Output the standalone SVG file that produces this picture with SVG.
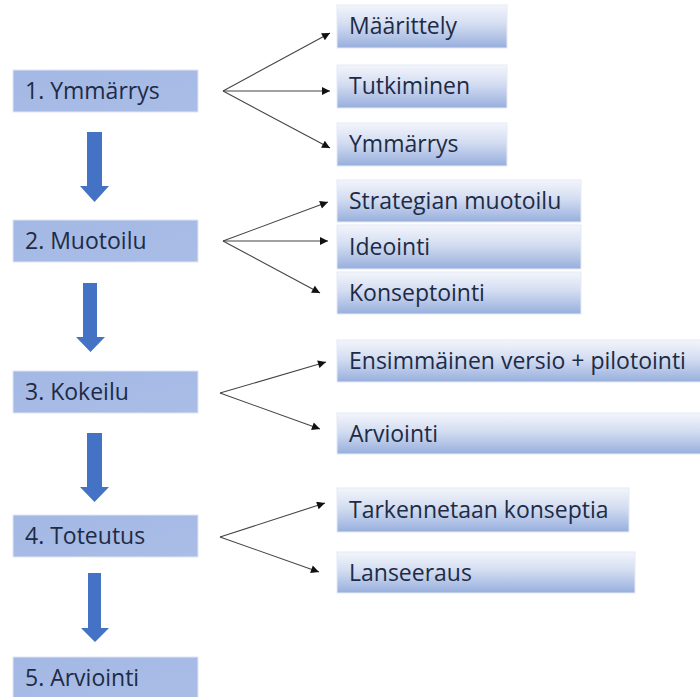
<svg xmlns="http://www.w3.org/2000/svg" width="700" height="697" viewBox="0 0 700 697">
<defs>
<linearGradient id="gR" x1="0" y1="0" x2="0" y2="1">
<stop offset="0" stop-color="#f3f5fb"/>
<stop offset="0.45" stop-color="#d3ddf1"/>
<stop offset="1" stop-color="#97aedd"/>
</linearGradient>
<linearGradient id="gL" x1="0" y1="0" x2="1" y2="1">
<stop offset="0" stop-color="#a3b8e4"/>
<stop offset="1" stop-color="#a9bde6"/>
</linearGradient>
<marker id="ah" viewBox="0 0 10 10" refX="10" refY="5" markerWidth="9" markerHeight="8" markerUnits="userSpaceOnUse" orient="auto">
<path d="M0,0 L10,5 L0,10 Z" fill="#111"/>
</marker>
</defs>
<style>
.lb{fill:url(#gL);stroke:#dfe6f4;stroke-width:1}
.rb{fill:url(#gR);stroke:#e4eaf6;stroke-width:1}
.t{font-family:"Open Sans","Noto Sans",sans-serif;font-size:23px;fill:#1e2b45}
.c{fill:none;stroke:#444;stroke-width:1.1;marker-end:url(#ah)}
.ba{fill:#4472c4}
</style>
<rect width="700" height="697" fill="#ffffff"/>

<g id="step1"><rect class="lb" x="13" y="70" width="185" height="42"/><text class="t" x="25" y="99">1. Ymmärrys</text></g>
<g id="step2"><rect class="lb" x="13" y="220" width="185" height="42"/><text class="t" x="25" y="249">2. Muotoilu</text></g>
<g id="step3"><rect class="lb" x="13" y="371" width="185" height="42"/><text class="t" x="25" y="400">3. Kokeilu</text></g>
<g id="step4"><rect class="lb" x="13" y="515" width="185" height="42"/><text class="t" x="25" y="544">4. Toteutus</text></g>
<g id="step5"><rect class="lb" x="13" y="657" width="185" height="42"/><text class="t" x="25" y="686">5. Arviointi</text></g>

<g id="s1a"><rect class="rb" x="337" y="5" width="170" height="43"/><text class="t" x="349" y="34">Määrittely</text></g>
<g id="s1b"><rect class="rb" x="337" y="65" width="170" height="43"/><text class="t" x="349" y="94">Tutkiminen</text></g>
<g id="s1c"><rect class="rb" x="337" y="123" width="170" height="43"/><text class="t" x="349" y="152">Ymmärrys</text></g>
<g id="s2a"><rect class="rb" x="337" y="180" width="244" height="42"/><text class="t" x="349" y="209">Strategian muotoilu</text></g>
<g id="s2b"><rect class="rb" x="337" y="225" width="244" height="44"/><text class="t" x="349" y="255">Ideointi</text></g>
<g id="s2c"><rect class="rb" x="337" y="272" width="244" height="42"/><text class="t" x="349" y="301">Konseptointi</text></g>
<g id="s3a"><rect class="rb" x="337" y="340" width="364" height="42"/><text class="t" x="349" y="369">Ensimmäinen versio + pilotointi</text></g>
<g id="s3b"><rect class="rb" x="337" y="413" width="364" height="41"/><text class="t" x="349" y="442">Arviointi</text></g>
<g id="s4a"><rect class="rb" x="337" y="488" width="292" height="44"/><text class="t" x="349" y="518">Tarkennetaan konseptia</text></g>
<g id="s4b"><rect class="rb" x="337" y="552" width="298" height="41"/><text class="t" x="349" y="581">Lanseeraus</text></g>

<g id="connectors">
<polygon class="ba" points="87,132 102,132 102,186 109,186 94.5,202 80,186 87,186"/>
<polygon class="ba" points="83,283 97,283 97,337 105,337 90.5,352 76,337 83,337"/>
<polygon class="ba" points="87,433 102,433 102,487 109,487 94.5,502 80,487 87,487"/>
<polygon class="ba" points="88,573 101,573 101,628 109,628 95,642 81,628 88,628"/>

<path class="c" d="M223,91 L330,33"/>
<path class="c" d="M223,91 L330,91"/>
<path class="c" d="M223,91 L330,148"/>
<path class="c" d="M223,241 L328,202"/>
<path class="c" d="M223,241 L328,241"/>
<path class="c" d="M223,241 L320,293"/>
<path class="c" d="M220,393 L326,362"/>
<path class="c" d="M220,393 L320,429"/>
<path class="c" d="M220,537 L325,503"/>
<path class="c" d="M220,537 L319,572"/>
</g>
</svg>
